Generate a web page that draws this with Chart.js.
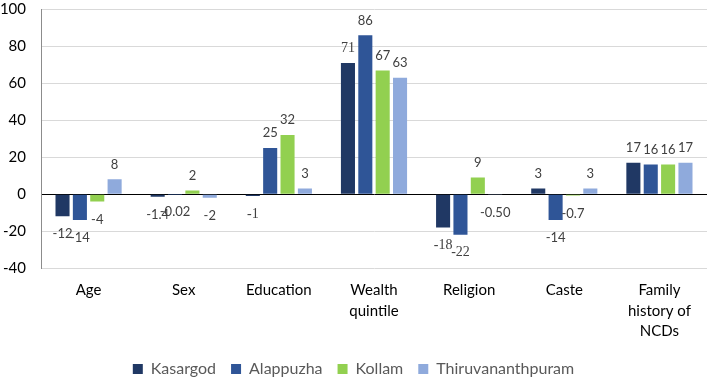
<!DOCTYPE html>
<html>
<head>
<meta charset="utf-8">
<script src="https://cdn.jsdelivr.net/npm/chart.js@4.4.1/dist/chart.umd.min.js"></script>
<style>
  html, body { margin: 0; padding: 0; background: #fff; }
  #wrap { width: 712px; height: 378px; }
</style>
</head>
<body>
<div id="wrap"><canvas id="chart"></canvas></div>
<script>
  // categories (multi-line labels like the original)
  const categories = [
    'Age', 'Sex', 'Education', ['Wealth', 'quintile'],
    'Religion', 'Caste', ['Family', 'history of', 'NCDs']
  ];

  // series values
  const kasargod  = [-12, -1.4, -1, 71, -18, 3, 17];
  const alappuzha = [-14, -0.02, 25, 86, -22, -14, 16];
  const kollam    = [-4, 2, 32, 67, 9, -0.7, 16];
  const thiru     = [8, -2, 3, 63, -0.5, 3, 17];

  // data label text as printed on the chart
  const kasargodLabels  = ['-12', '-1.4', '-1', '71', '-18', '3', '17'];
  const alappuzhaLabels = ['-14', '-0.02', '25', '86', '-22', '-14', '16'];
  const kollamLabels    = ['-4', '2', '32', '67', '9', '-0.7', '16'];
  const thiruLabels     = ['8', '-2', '3', '63', '-0.50', '3', '17'];

  const yTicks = [-40, -20, 0, 20, 40, 60, 80, 100];

  const FONT = 'Lato, "Open Sans", sans-serif';

  // simple value label plugin: above positive bars, below negative ones
  const valueLabels = {
    id: 'valueLabels',
    afterDatasetsDraw(chart) {
      const c = chart.ctx;
      c.save();
      c.textAlign = 'center';
      c.textBaseline = 'middle';
      c.fillStyle = '#404040';
      chart.data.datasets.forEach((ds, i) => {
        const meta = chart.getDatasetMeta(i);
        meta.data.forEach((bar, j) => {
          const v = ds.data[j];
          const serif = ds.serifIdx && ds.serifIdx.includes(j);
          c.font = serif ? '14px "Liberation Serif", serif' : '13px ' + FONT;
          const y = v >= 0 ? bar.y - 15 : bar.y + 18;
          c.fillText(ds.labelText[j], bar.x, y);
        });
      });
      c.restore();
    }
  };

  new Chart(document.getElementById('chart'), {
    type: 'bar',
    data: {
      labels: categories,
      datasets: [
        { label: 'Kasargod', data: kasargod, labelText: kasargodLabels, serifIdx: [2, 3, 4], backgroundColor: '#203864' },
        { label: 'Alappuzha', data: alappuzha, labelText: alappuzhaLabels, serifIdx: [4], backgroundColor: '#2f5597' },
        { label: 'Kollam', data: kollam, labelText: kollamLabels, backgroundColor: '#92d050' },
        { label: 'Thiruvananthpuram', data: thiru, labelText: thiruLabels, backgroundColor: '#8faadc' }
      ]
    },
    options: {
      responsive: true,
      maintainAspectRatio: false,
      animation: false,
      layout: { padding: { top: 0, right: 5, left: 0, bottom: -9 } },
      datasets: {
        bar: { categoryPercentage: 0.73, barPercentage: 0.81 }
      },
      scales: {
        x: {
          grid: { display: false, drawTicks: false },
          border: { display: false },
          ticks: {
            color: '#000',
            font: { family: FONT, size: 15, lineHeight: 1.37 },
            maxRotation: 0,
            padding: 12
          },
          afterFit: (axis) => { axis.height = 78; }
        },
        y: {
          min: -40,
          max: 100,
          afterBuildTicks: (axis) => { axis.ticks = yTicks.map(v => ({ value: v })); },
          grid: {
            color: (ctx) => ctx.tick && ctx.tick.value === 0 ? '#000' : '#d9d9d9',
            lineWidth: 1,
            drawTicks: false
          },
          border: { display: true, color: '#8c8c8c' },
          ticks: {
            color: '#000',
            font: { family: FONT, size: 15 },
            padding: 15
          },
          // fixed axis box so the plot starts where the original does
          afterFit: (axis) => {
            axis.width = 41;
            axis.paddingTop = 9.5;
            axis.paddingBottom = 0;
          }
        }
      },
      plugins: {
        legend: {
          position: 'bottom',
          labels: {
            color: '#595959',
            font: { family: FONT, size: 16 },
            boxWidth: 10,
            boxHeight: 10,
            padding: 15
          }
        },
        tooltip: { enabled: false }
      }
    },
    plugins: [valueLabels]
  });
</script>
</body>
</html>
